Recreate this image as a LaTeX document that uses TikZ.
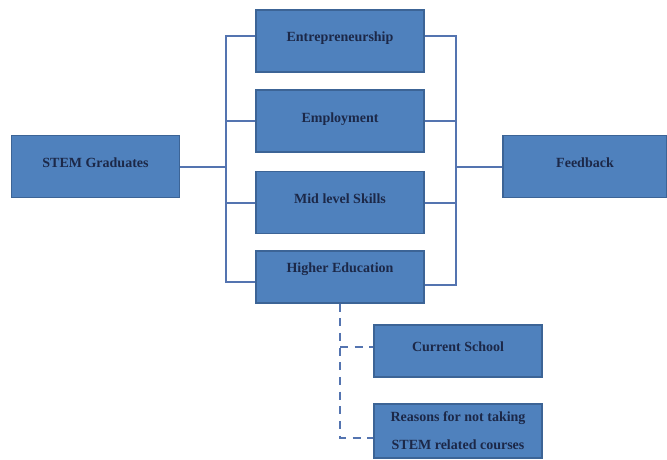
\documentclass[tikz,border=0pt]{standalone}
\usepackage{fontspec}
\setmainfont{Liberation Serif}
\definecolor{boxfill}{RGB}{79,129,189}
\definecolor{boxline}{RGB}{60,100,150}
\definecolor{linkcol}{RGB}{84,116,176}
\definecolor{txtcol}{RGB}{28,40,72}
\begin{document}
\begin{tikzpicture}[x=0.75pt,y=-0.75pt,
 box/.style={draw=boxline,fill=boxfill,line width=0.8pt,inner sep=0pt,minimum width=126pt,
  text=txtcol,font=\bfseries\fontsize{10.5}{12}\selectfont},
 tall/.style={text height=24pt,text depth=22.5pt},
 low/.style={text height=15.75pt,text depth=23.25pt},
 mid/.style={text height=19.5pt,text depth=19.5pt},
 link/.style={draw=linkcol,line width=1.5pt},
 dlink/.style={link,dash pattern=on 6pt off 5pt}]
 \useasboundingbox (0,0) rectangle (667,460);
 % left and right columns
 \node[box,tall] (stem) at (95.5,166.5) {STEM Graduates};
 \node[box,tall,minimum width=123pt] (feed) at (585,166.5) {Feedback};
 % outcomes
 \node[box,tall] (ent) at (340,41) {Entrepreneurship};
 \node[box,tall] (emp) at (340,121) {Employment};
 \node[box,tall] (mls) at (340,202.5) {Mid level Skills};
 \node[box,low] (high) at (340,277) {Higher Education};
 % higher education branch
 \node[box,mid] (cur) at (458,351) {Current School};
 \node[box,minimum height=40.5pt,align=center] (reas) at (458,431) {Reasons for not taking\\[9pt]STEM related courses};
 \coordinate (lb) at (226,0);
 \coordinate (rb) at (456,0);
 % buses
 \draw[link] ([yshift=4pt]ent.west) -- ([yshift=4pt]ent.west -| lb) -- ([yshift=-4pt]high.west -| lb) -- ([yshift=-4pt]high.west);
 \draw[link] ([yshift=4pt]ent.east) -- ([yshift=4pt]ent.east -| rb) -- ([yshift=-6pt]high.east -| rb) -- ([yshift=-6pt]high.east);
 \foreach \n in {emp,mls}{
  \draw[link] (\n.west) -- (\n.west -| lb);
  \draw[link] (\n.east) -- (\n.east -| rb);
 }
 \draw[link] (stem.east) -- (stem.east -| lb);
 \draw[link] (feed.west) -- (feed.west -| rb);
 % dashed branch
 \draw[dlink] (high.south) -- ([yshift=-5pt]high.south |- reas.west) -- ([yshift=-5pt]reas.west);
 \draw[dlink] ([yshift=3pt]high.south |- cur.west) -- ([yshift=3pt]cur.west);
\end{tikzpicture}
\end{document}
